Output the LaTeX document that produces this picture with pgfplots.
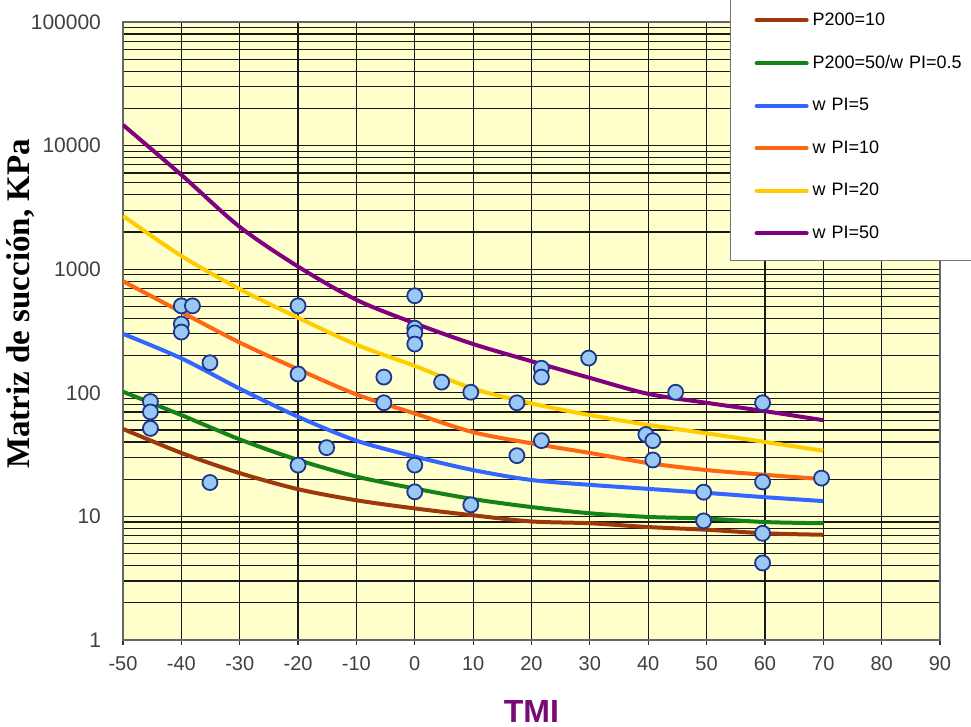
\documentclass[border=0pt]{standalone}
\usepackage{pgfplots}
\pgfplotsset{compat=1.18}
\usepackage{fontspec}
\setmainfont{Liberation Sans}
\newfontfamily\serifb{Liberation Serif}
\definecolor{bg}{RGB}{255,255,204}
\definecolor{cbrown}{RGB}{156,56,10}
\definecolor{cgreen}{RGB}{20,130,20}
\definecolor{cblue}{RGB}{51,102,255}
\definecolor{corange}{RGB}{255,102,20}
\definecolor{cyellow}{RGB}{255,204,0}
\definecolor{cpurple}{RGB}{128,0,128}
\definecolor{mfill}{RGB}{153,200,245}
\definecolor{mdraw}{RGB}{30,55,140}
\definecolor{tmi}{RGB}{120,10,120}
\begin{document}
\begin{tikzpicture}[x=1pt,y=1pt]
\useasboundingbox (0,0) rectangle (485.5,363.5);
\begin{axis}[
  at={(61.5pt,43.5pt)}, anchor=south west,
  scale only axis, width=408.5pt, height=309pt,
  ymode=log, xmin=-50, xmax=90, ymin=1, ymax=100000,
  axis background/.style={fill=bg},
  xtick={-50,-40,...,90},
  xticklabels={-50,-40,-30,-20,-10,0,10,20,30,40,50,60,70,80,90},
  ytick={1,10,100,1000,10000,100000},
  yticklabels={1,10,100,1000,10000,100000},
  grid=both,
  major grid style={black!90, line width=0.6pt},
  minor grid style={black!90, line width=0.6pt},
  axis line style={black!60, line width=0.6pt},
  tick align=outside, xtick pos=bottom, ytick pos=left,
  major tick length=2.5pt, minor tick length=0pt,
  xtick style={black!80, line width=0.6pt},
  ytick style={draw=none},
  ticklabel style={text=black!75},
  xticklabel style={yshift=-2pt, font=\fontsize{10}{12}\selectfont},
  yticklabel style={xshift=-5pt, font=\fontsize{10.5}{12}\selectfont},
  ylabel={\serifb\bfseries Matriz de succión, KPa},
  ylabel style={at={(axis description cs:-0.1248,0.5437)}, anchor=center, font=\fontsize{16.5}{18}\selectfont},
  xlabel={\bfseries TMI},
  xlabel style={at={(axis description cs:0.5,-0.1165)}, anchor=center, font=\fontsize{16}{18}\selectfont, text=tmi},
  legend image code/.code={\draw[#1, line width=2pt, line cap=round] (0pt,0pt) -- (25pt,0pt);},
  legend cell align=left,
  legend style={at={(axis description cs:0.743,1.047)}, anchor=north west,
    draw=black!55, line width=0.6pt, fill=white,
    font=\fontsize{9}{10}\selectfont,
    inner xsep=12pt, inner ysep=7.5pt, row sep=9.5pt,
    /tikz/column 2/.style={text width=100pt, inner xsep=1pt}},
  every axis plot/.append style={line width=2pt, mark=none},
]
\addplot[cbrown, smooth] coordinates {(-50,51) (-40,32.6) (-30,22.4) (-20,16.6) (-10,13.5) (0,11.6) (10,10.2) (20,9.1) (30,8.8) (40,8.2) (50,7.8) (60,7.3) (70,7.1)};
\addlegendentry{P200=10}
\addplot[cgreen, smooth] coordinates {(-50,102) (-40,66) (-30,42) (-20,28.6) (-10,21) (0,16.8) (10,13.8) (20,11.9) (30,10.6) (40,9.9) (50,9.6) (60,9.0) (70,8.8)};
\addlegendentry{P200=50/w PI=0.5}
\addplot[cblue, smooth] coordinates {(-50,300) (-40,190) (-30,108) (-20,64) (-10,41) (0,30.5) (10,23.7) (20,19.7) (30,18) (40,16.7) (50,15.5) (60,14.3) (70,13.3)};
\addlegendentry{w PI=5}
\addplot[corange, smooth] coordinates {(-50,800) (-40,450) (-30,255) (-20,155) (-10,97) (0,68) (10,48) (20,39) (30,32.6) (40,27) (50,23.7) (60,21.7) (70,20)};
\addlegendentry{w PI=10}
\addplot[cyellow, smooth] coordinates {(-50,2700) (-40,1280) (-30,690) (-20,405) (-10,245) (0,165) (10,108) (20,82) (30,66) (40,55) (50,47) (60,40) (70,34)};
\addlegendentry{w PI=20}
\addplot[cpurple, smooth] coordinates {(-50,14700) (-40,5800) (-30,2200) (-20,1050) (-10,565) (0,365) (10,248) (20,180) (30,132) (40,98) (50,83) (60,71) (70,60)};
\addlegendentry{w PI=50}
\addplot[only marks, forget plot, mark=*, mark size=3.75pt, mark options={fill=mfill, draw=mdraw, line width=0.9pt}] coordinates {
(-45.3,85) (-45.3,70) (-45.3,51.5)
(-40,505) (-38.1,505) (-40,360) (-40,310)
(-35.1,175) (-35.1,18.8)
(-20,505) (-20,142) (-20,26)
(-15.1,36)
(-5.3,134) (-5.3,83)
(0,610) (0,333) (0,305) (0,248) (0,26) (0,15.8)
(4.6,122) (9.6,101) (9.6,12.4)
(17.5,83) (17.5,31)
(21.7,158) (21.7,134) (21.7,41)
(29.8,191)
(39.6,46) (40.8,41) (40.8,28.6)
(44.7,101)
(49.5,15.7) (49.5,9.2)
(59.6,83) (59.6,19) (59.6,7.3) (59.6,4.2)
(69.7,20.4)
};
\end{axis}
\end{tikzpicture}
\end{document}
